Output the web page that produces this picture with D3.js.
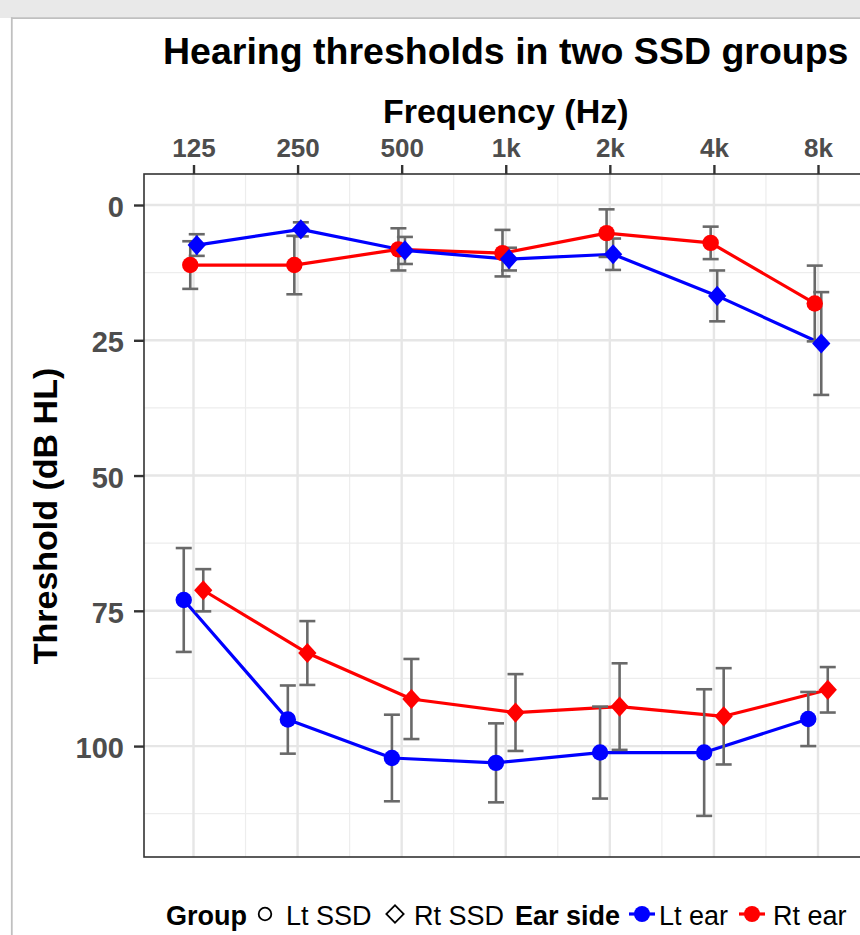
<!DOCTYPE html>
<html><head><meta charset="utf-8">
<script src="https://cdn.jsdelivr.net/npm/d3@7/dist/d3.min.js"></script>
<style>html,body{margin:0;padding:0;background:#fff;overflow:hidden}</style>
</head><body><svg id="c" width="860" height="935"></svg>
<script>
// ---- data ----
const freqLabels = ["125","250","500","1k","2k","4k","8k"];
const yTicks = [0,25,50,75,100];
const yMinorTicks = [12.5,37.5,62.5,87.5,112.5];
const groups = ["Lt SSD","Rt SSD"];
const earSides = ["Lt ear","Rt ear"];

// Lt SSD group
const ltSSD_ltEar_mean = [73.0, 95.1, 102.2, 103.1, 101.2, 101.2, 95.0];
const ltSSD_ltEar_sd   = [9.6, 6.3, 8.0, 7.3, 8.5, 11.7, 5.0];
const ltSSD_rtEar_mean = [11.1, 11.1, 8.2, 8.9, 5.2, 7.0, 18.2];
const ltSSD_rtEar_sd   = [4.4, 5.4, 3.9, 4.3, 4.4, 3.0, 7.0];
// Rt SSD group
const rtSSD_ltEar_mean = [7.4, 4.5, 8.4, 10.0, 9.1, 16.8, 25.6];
const rtSSD_ltEar_sd   = [2.0, 1.3, 2.5, 2.1, 2.9, 4.7, 9.5];
const rtSSD_rtEar_mean = [71.2, 82.8, 91.3, 93.8, 92.7, 94.5, 89.6];
const rtSSD_rtEar_sd   = [3.9, 5.9, 7.4, 7.1, 8.0, 8.9, 4.2];

const series = [
  {group:"Lt SSD", ear:"Lt ear", mean:ltSSD_ltEar_mean, sd:ltSSD_ltEar_sd, dodge:0},
  {group:"Lt SSD", ear:"Rt ear", mean:ltSSD_rtEar_mean, sd:ltSSD_rtEar_sd, dodge:1},
  {group:"Rt SSD", ear:"Lt ear", mean:rtSSD_ltEar_mean, sd:rtSSD_ltEar_sd, dodge:2},
  {group:"Rt SSD", ear:"Rt ear", mean:rtSSD_rtEar_mean, sd:rtSSD_rtEar_sd, dodge:3}
];

// ---- styles / layout ----
const FONT = "'Liberation Sans', Arial, Helvetica, sans-serif";
const earColor = d3.scaleOrdinal().domain(earSides).range(["#0000ff","#ff0000"]);
const dodgeW = 0.25;
const dodgeOff = k => (k - 1.5) * dodgeW / 4;

const svg = d3.select("#c");
const L = 144, T = 174, R = 867.5, B = 857;

// window chrome
svg.append("rect").attr("x",0).attr("y",0).attr("width",860).attr("height",18).attr("fill","#e9e9e9");
svg.append("line").attr("x1",11).attr("x2",860).attr("y1",18.2).attr("y2",18.2).attr("stroke","#c0c0c0").attr("stroke-width",1.8);
svg.append("line").attr("x1",11.8).attr("x2",11.8).attr("y1",17.3).attr("y2",935).attr("stroke","#c0c0c0").attr("stroke-width",1.8);

const x = d3.scaleLinear().domain([-0.4756, 6.4756]).range([L, R]);
const y = d3.scaleLinear().domain([-5.73, 120.5]).range([T, B]);

// grid
const g = svg.append("g");
g.selectAll(".ymin").data(yMinorTicks).enter().append("line")
  .attr("x1",L).attr("x2",R).attr("y1",d=>y(d)).attr("y2",d=>y(d))
  .attr("stroke","#ededed").attr("stroke-width",1.2);
g.selectAll(".xmin").data(d3.range(0.5,6.5,1)).enter().append("line")
  .attr("y1",T).attr("y2",B).attr("x1",d=>x(d)).attr("x2",d=>x(d))
  .attr("stroke","#ededed").attr("stroke-width",1.2);
g.selectAll(".ymaj").data(yTicks).enter().append("line")
  .attr("x1",L).attr("x2",R).attr("y1",d=>y(d)).attr("y2",d=>y(d))
  .attr("stroke","#e6e6e6").attr("stroke-width",2.4);
g.selectAll(".xmaj").data(d3.range(freqLabels.length)).enter().append("line")
  .attr("y1",T).attr("y2",B).attr("x1",d=>x(d)).attr("x2",d=>x(d))
  .attr("stroke","#e6e6e6").attr("stroke-width",2.4);

// lines
const line = d3.line();
series.forEach(s => {
  svg.append("path")
    .attr("d", line(s.mean.map((m,i)=>[x(i+dodgeOff(s.dodge)), y(m)])))
    .attr("fill","none").attr("stroke",earColor(s.ear)).attr("stroke-width",3.2)
    .attr("stroke-linejoin","round");
});
// error bars
const cap = 8;
series.forEach(s => {
  const eg = svg.append("g").attr("stroke","#696969").attr("stroke-width",2.6).attr("fill","none");
  s.mean.forEach((m,i) => {
    const cx = x(i+dodgeOff(s.dodge)), y1 = y(m - s.sd[i]), y2 = y(m + s.sd[i]);
    eg.append("line").attr("x1",cx).attr("x2",cx).attr("y1",y1).attr("y2",y2);
    eg.append("line").attr("x1",cx-cap).attr("x2",cx+cap).attr("y1",y1).attr("y2",y1);
    eg.append("line").attr("x1",cx-cap).attr("x2",cx+cap).attr("y1",y2).attr("y2",y2);
  });
});
// points
const diamond = d3.symbol().type(d3.symbolSquare).size(185);
series.forEach(s => {
  s.mean.forEach((m,i) => {
    const cx = x(i+dodgeOff(s.dodge)), cy = y(m);
    if (s.group === "Lt SSD") {
      svg.append("circle").attr("cx",cx).attr("cy",cy).attr("r",8.2).attr("fill",earColor(s.ear));
    } else {
      svg.append("path").attr("d",diamond())
        .attr("transform",`translate(${cx},${cy}) scale(0.95,1.05) rotate(45)`)
        .attr("fill",earColor(s.ear));
    }
  });
});

// panel border
svg.append("rect").attr("x",L).attr("y",T).attr("width",R-L).attr("height",B-T)
  .attr("fill","none").attr("stroke","#333").attr("stroke-width",1.6);

// axes
const ax = svg.append("g").attr("transform",`translate(0,${T})`)
  .call(d3.axisTop(x).tickValues(d3.range(freqLabels.length)).tickFormat(i=>freqLabels[i]).tickSize(9).tickPadding(8));
ax.select(".domain").remove();
ax.selectAll(".tick line").attr("stroke","#333").attr("stroke-width",2.4);
ax.selectAll(".tick text").attr("font-family",FONT).attr("font-size",26).attr("font-weight","bold").attr("fill","#4d4d4d");

const ay = svg.append("g").attr("transform",`translate(${L},0)`)
  .call(d3.axisLeft(y).tickValues(yTicks).tickSize(10).tickPadding(10));
ay.select(".domain").remove();
ay.selectAll(".tick line").attr("stroke","#333").attr("stroke-width",2.4);
ay.selectAll(".tick text").attr("font-family",FONT).attr("font-size",29).attr("font-weight","bold")
  .attr("fill","#4d4d4d").attr("dy","0.40em");

// titles
const cx = (L+R)/2;
svg.append("text").attr("x",cx).attr("y",64).attr("text-anchor","middle")
  .attr("font-family",FONT).attr("font-size",37.5).attr("font-weight","bold").attr("fill","#000")
  .text("Hearing thresholds in two SSD groups");
svg.append("text").attr("x",cx).attr("y",123).attr("text-anchor","middle")
  .attr("font-family",FONT).attr("font-size",34).attr("font-weight","bold").attr("fill","#000")
  .text("Frequency (Hz)");
svg.append("text").attr("transform",`translate(57,516) rotate(-90)`).attr("text-anchor","middle")
  .attr("font-family",FONT).attr("font-size",34).attr("font-weight","bold").attr("fill","#000")
  .text("Threshold (dB HL)");

// legend
const LY = 925, LC = 914;
const lg = svg.append("g").attr("font-family",FONT).attr("font-size",27).attr("fill","#000");
lg.append("text").attr("x",166).attr("y",LY).attr("font-weight","bold").text("Group");
lg.append("circle").attr("cx",265).attr("cy",LC).attr("r",6.3).attr("fill","none").attr("stroke","#000").attr("stroke-width",1.8);
lg.append("text").attr("x",286).attr("y",LY).text(groups[0]);
lg.append("path").attr("d",d3.symbol().type(d3.symbolSquare).size(150)())
  .attr("transform",`translate(395,${LC}) rotate(45)`).attr("fill","none").attr("stroke","#000").attr("stroke-width",1.8);
lg.append("text").attr("x",414).attr("y",LY).text(groups[1]);
lg.append("text").attr("x",515).attr("y",LY).attr("font-weight","bold").text("Ear side");
[[642,659],[752,773]].forEach((p,k) => {
  const col = earColor(earSides[k]);
  lg.append("line").attr("x1",p[0]-13).attr("x2",p[0]+13).attr("y1",LC).attr("y2",LC).attr("stroke",col).attr("stroke-width",3.2);
  lg.append("circle").attr("cx",p[0]).attr("cy",LC).attr("r",8).attr("fill",col);
  lg.append("text").attr("x",p[1]).attr("y",LY).text(earSides[k]);
});
</script></body></html>
